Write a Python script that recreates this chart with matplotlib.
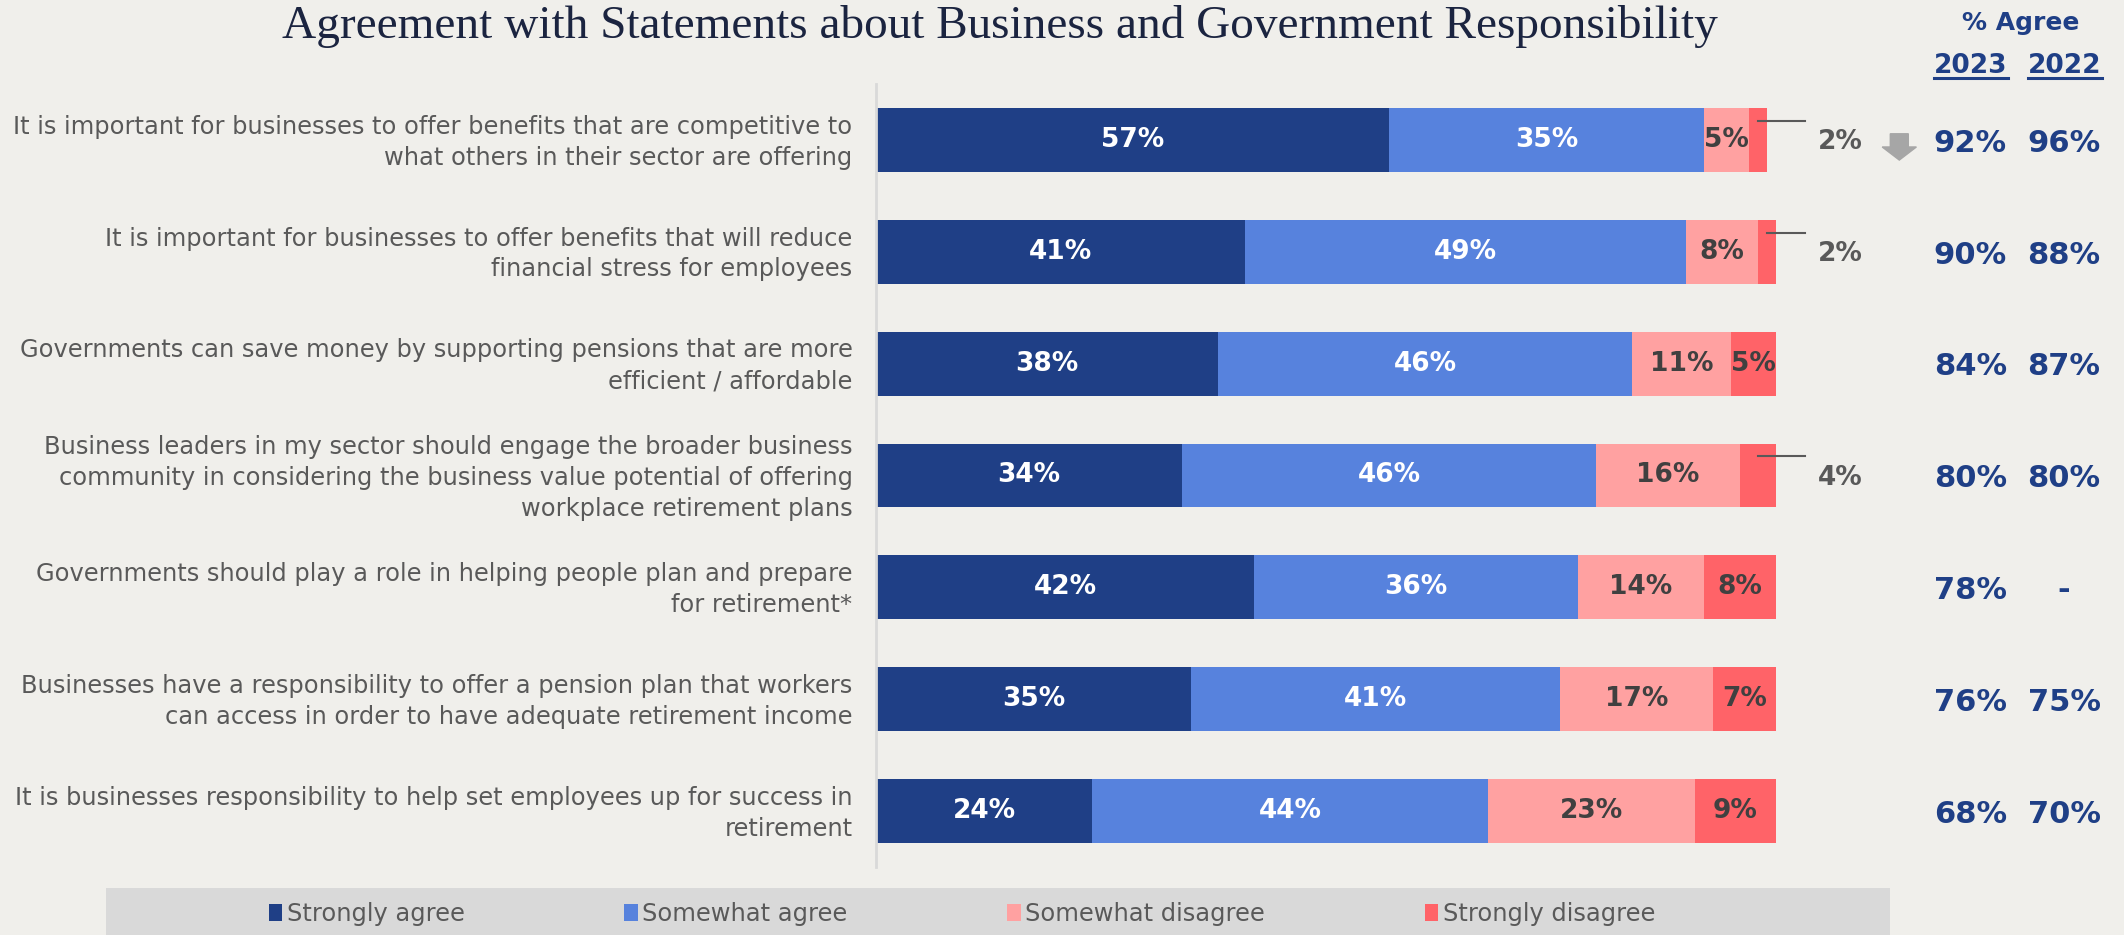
import matplotlib.pyplot as plt
from matplotlib.patches import Patch, Rectangle
from matplotlib.lines import Line2D
import numpy as np

statements = [
    "It is important for businesses to offer benefits that are competitive to\nwhat others in their sector are offering",
    "It is important for businesses to offer benefits that will reduce\nfinancial stress for employees",
    "Governments can save money by supporting pensions that are more\nefficient / affordable",
    "Business leaders in my sector should engage the broader business\ncommunity in considering the business value potential of offering\nworkplace retirement plans",
    "Governments should play a role in helping people plan and prepare\nfor retirement*",
    "Businesses have a responsibility to offer a pension plan that workers\ncan access in order to have adequate retirement income",
    "It is businesses responsibility to help set employees up for success in\nretirement",
]
strongly_agree = [57, 41, 38, 34, 42, 35, 24]
somewhat_agree = [35, 49, 46, 46, 36, 41, 44]
somewhat_disagree = [5, 8, 11, 16, 14, 17, 23]
strongly_disagree = [2, 2, 5, 4, 8, 7, 9]
agree_2023 = ["92%", "90%", "84%", "80%", "78%", "76%", "68%"]
agree_2022 = ["96%", "88%", "87%", "80%", "-", "75%", "70%"]
series_names = ["Strongly agree", "Somewhat agree", "Somewhat disagree", "Strongly disagree"]

colors = ["#1F3F86", "#5782DD", "#FFA1A1", "#FF6368"]
text_colors = ["white", "white", "#404040", "#404040"]
bg = "#F0EFEB"
navy = "#1F3F86"
gray = "#595959"

W, H = 2124, 935
fig = plt.figure(figsize=(W / 100, H / 100), dpi=100, facecolor=bg)


def fx(px):
    return px / W


def fy(py):
    return 1 - py / H


ax = fig.add_axes([fx(876), fy(867), fx(900), 783 / H])
ax.set_facecolor(bg)
ax.set_xlim(0, 100)
ax.set_ylim(6.5, -0.5)
for s in ["top", "right", "bottom"]:
    ax.spines[s].set_visible(False)
ax.spines["left"].set_color("#D9D9D9")
ax.spines["left"].set_linewidth(2)
ax.set_xticks([])
ax.set_yticks([])

rows = np.arange(len(statements))
data = np.array([strongly_agree, somewhat_agree, somewhat_disagree, strongly_disagree], dtype=float)
lefts = np.zeros(len(statements))
for k in range(4):
    ax.barh(rows, data[k], left=lefts, height=0.57, color=colors[k], zorder=2)
    for i in rows:
        v = data[k][i]
        cx = lefts[i] + v / 2
        if v >= 5:
            ax.text(cx, i, f"{int(v)}%", ha="center", va="center", fontsize=19,
                    fontweight="bold", color=text_colors[k], zorder=3)
        else:
            # small slices get a callout to the right of the bar
            ax.plot([cx, 103.2], [i - 0.17, i - 0.17], color=gray, lw=1.5, zorder=3,
                    clip_on=False)
            ax.text(107.1, i + 0.02, f"{int(v)}%", ha="center", va="center", fontsize=19,
                    fontweight="bold", color=gray)
    lefts += data[k]

for i, lab in enumerate(statements):
    ax.text(-2.6, i + 0.02, lab, ha="right", va="center", multialignment="right",
            fontsize=17.4, color=gray, linespacing=1.36)
    ax.text(121.6, i + 0.03, agree_2023[i], ha="center", va="center", fontsize=22,
            fontweight="bold", color=navy)
    ax.text(132.0, i + 0.03, agree_2022[i], ha="center", va="center", fontsize=22,
            fontweight="bold", color=navy)

# downward change marker for the first statement
ax.arrow(113.7, -0.055, 0, 0.235, width=2.0, head_width=3.8, head_length=0.117,
         length_includes_head=True, color="#A6A6A6", clip_on=False, zorder=3)

fig.text(fx(1000), fy(27), "Agreement with Statements about Business and Government Responsibility",
         ha="center", va="center", fontsize=34, family="Liberation Serif", color="#1B2440")
fig.text(fx(2021), fy(23), "% Agree", ha="center", va="center", fontsize=18,
         fontweight="bold", color=navy)
years = []
for x, yr in [(1971, "2023"), (2065, "2022")]:
    years.append(fig.text(fx(x), fy(66), yr, ha="center", va="center", fontsize=19,
                          fontweight="bold", color=navy))

fig.canvas.draw()
r = fig.canvas.get_renderer()
for t in years:
    bb = t.get_window_extent(r).transformed(fig.transFigure.inverted())
    fig.add_artist(Line2D([bb.x0, bb.x1], [fy(78), fy(78)], color=navy, lw=2.2))

# legend strip
fig.add_artist(Rectangle((fx(106), 0), fx(1890) - fx(106), 47 / H, transform=fig.transFigure,
                         facecolor="#D9D9D9", edgecolor="none", zorder=0))
handles = [Patch(facecolor=c, edgecolor="none") for c in colors]
fig.legend(handles, series_names, loc="center", bbox_to_anchor=(fx(962), fy(914)), ncol=4,
           frameon=False, fontsize=17.4, labelcolor=gray, handlelength=0.55, handleheight=0.75,
           handletextpad=0.2, columnspacing=6.6)

fig.savefig("out.png", dpi=100, facecolor=bg)
